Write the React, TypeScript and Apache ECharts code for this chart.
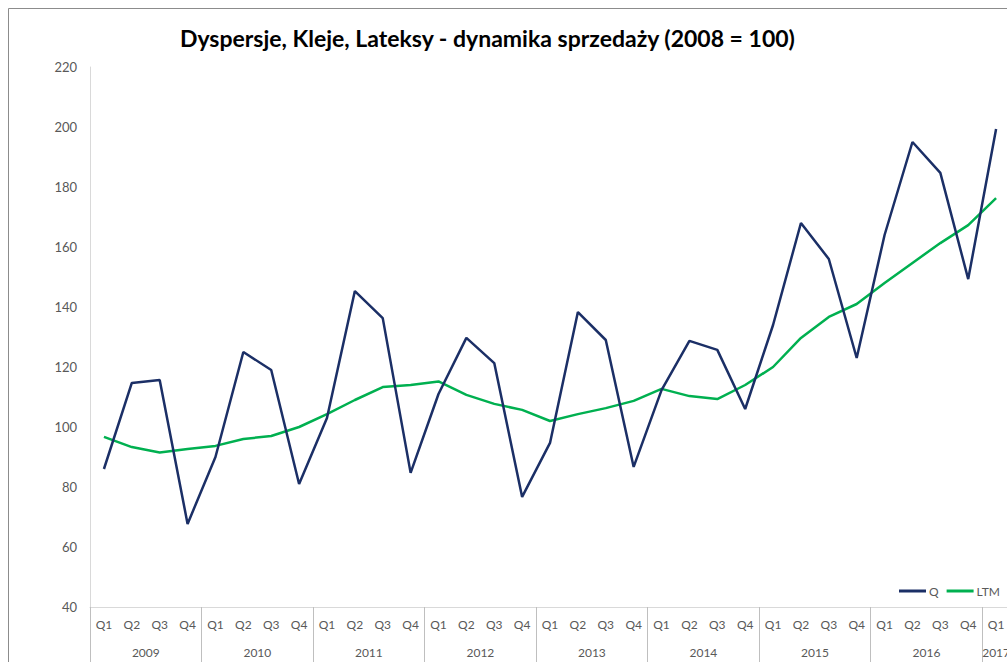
import React, { useEffect, useRef } from "react";
import * as echarts from "echarts";

const years = ["2009", "2010", "2011", "2012", "2013", "2014", "2015", "2016", "2017"];
const quarterNames = ["Q1", "Q2", "Q3", "Q4"];
const quarterCount = 33;

const qValues = [
  86, 114.7, 115.7, 67.7,
  90, 125, 119, 81,
  103, 145.3, 136.3, 84.7,
  111, 129.7, 121.3, 76.7,
  94.7, 138.3, 129, 86.7,
  112.3, 128.7, 125.7, 106,
  134, 168, 156, 123,
  164, 195, 184.7, 149.3,
  199.3,
];

const ltmValues = [
  96.7, 93.3, 91.5, 92.7,
  93.7, 96, 97, 100,
  104.3, 109, 113.3, 114,
  115.2, 110.7, 107.7, 105.7,
  102, 104.3, 106.3, 108.7,
  112.7, 110.3, 109.3, 114,
  120, 129.7, 136.7, 141,
  148, 154.7, 161.3, 167.3,
  176.3,
];

const yTicks = { min: 40, max: 220, step: 20 };
const title = "Dyspersje, Kleje, Lateksy - dynamika sprzedaży (2008 = 100)";

const quarterCats: string[] = [];
const yearCats: string[] = [];
for (let i = 0; i < quarterCount; i++) {
  quarterCats.push(quarterNames[i % 4]);
  yearCats.push(years[Math.floor(i / 4)]);
}

const FONT = "Lato, 'Open Sans', sans-serif";

export default function App() {
  const ref = useRef<HTMLDivElement>(null);
  useEffect(() => {
    if (!ref.current) return;
    const chart = echarts.init(ref.current, null, { renderer: "svg" });
    chart.setOption({
      animation: false,
      backgroundColor: "#ffffff",
      textStyle: { fontFamily: FONT },
      title: {
        text: title,
        left: 175,
        top: 21,
        textStyle: { fontFamily: FONT, fontSize: 23, fontWeight: "bold", color: "#000000" },
      },
      graphic: [
        {
          type: "rect",
          shape: { x: 8.5, y: 8.5, width: 1200, height: 900 },
          style: { fill: "none", stroke: "#8c8c8c", lineWidth: 1 },
          silent: true,
        },
      ],
      legend: {
        left: 894,
        top: 580,
        icon: "rect",
        itemWidth: 27,
        itemHeight: 3,
        itemGap: 8,
        textStyle: { fontFamily: FONT, fontSize: 12, color: "#595959", padding: [0, 0, 0, -2] },
        data: ["Q", "LTM"],
      },
      grid: { left: 90, width: 921, top: 67, bottom: 55, containLabel: false },
      xAxis: [
        {
          type: "category",
          data: quarterCats,
          boundaryGap: true,
          axisLine: { show: true, lineStyle: { color: "#d9d9d9", width: 1 } },
          axisTick: {
            show: true,
            interval: (i: number) => i % 4 === 0,
            length: 56,
            lineStyle: { color: "#bfbfbf" },
          },
          axisLabel: {
            interval: 0,
            margin: 11,
            fontSize: 12,
            color: "#595959",
            fontFamily: FONT,
          },
          splitLine: { show: false },
        },
        {
          type: "category",
          data: yearCats,
          position: "bottom",
          offset: 30,
          boundaryGap: true,
          axisLine: { show: false },
          axisTick: { show: false },
          axisLabel: {
            interval: (i: number) => i % 4 === 1 || i === quarterCount - 1,
            margin: 9,
            fontSize: 12,
            color: "#595959",
            fontFamily: FONT,
            formatter: (v: string, i: number) => (i % 4 === 1 ? "{a|" + v + "}" : "{b|" + v + "}"),
            rich: {
              a: { padding: [0, 0, 0, 28], fontSize: 12, color: "#595959", fontFamily: FONT },
              b: { fontSize: 12, color: "#595959", fontFamily: FONT },
            },
          },
          splitLine: { show: false },
        },
      ],
      yAxis: {
        type: "value",
        min: yTicks.min,
        max: yTicks.max,
        interval: yTicks.step,
        axisLine: { show: true, lineStyle: { color: "#d9d9d9", width: 1 } },
        axisTick: { show: false },
        splitLine: { show: false },
        axisLabel: { margin: 13, fontSize: 13, color: "#595959", fontFamily: FONT },
      },
      series: [
        {
          name: "Q",
          type: "line",
          data: qValues,
          symbol: "none",
          color: "#1b2f66",
          lineStyle: { width: 2.5, color: "#1b2f66" },
          z: 3,
        },
        {
          name: "LTM",
          type: "line",
          data: ltmValues,
          symbol: "none",
          color: "#00b050",
          lineStyle: { width: 2.5, color: "#00b050" },
          z: 2,
        },
      ],
    });
    return () => chart.dispose();
  }, []);
  return (
    <div
      ref={ref}
      style={{ position: "fixed", left: 0, top: 0, width: 1013, height: 662 }}
    />
  );
}
